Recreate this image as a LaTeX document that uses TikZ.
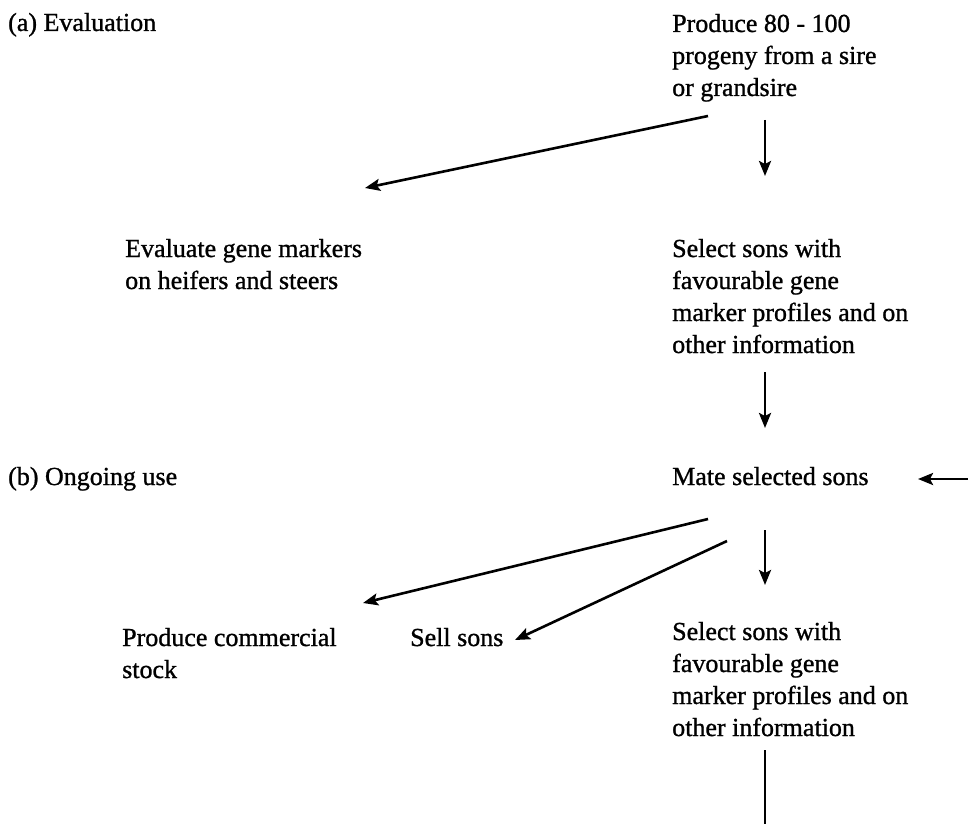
\documentclass[tikz,border=0pt]{standalone}
\usepackage{fontspec}
\setmainfont[FakeBold=1]{Liberation Serif}
\usetikzlibrary{arrows.meta}
\begin{document}
\begin{tikzpicture}[x=1pt,y=-1pt,
  txt/.style={anchor=base west, inner sep=0pt, font=\fontsize{26}{32}\selectfont},
  arr/.style={line width=2.6pt, -{Stealth[length=15pt,width=12pt,inset=3pt]}},
  ln/.style={line width=2.6pt}]
\useasboundingbox (0,0) rectangle (968,824);
% text nodes
\node[txt] (a) at (8,31) {(a) Evaluation};
\node[txt] (p) at (672,32) {\begin{tabular}[t]{@{}l@{}}Produce 80 - 100\\progeny from a sire\\or grandsire\end{tabular}};
\node[txt] (e) at (125,257) {\begin{tabular}[t]{@{}l@{}}Evaluate gene markers\\on heifers and steers\end{tabular}};
\node[txt] (s1) at (672,257) {\begin{tabular}[t]{@{}l@{}}Select sons with\\favourable gene\\marker profiles and on\\other information\end{tabular}};
\node[txt] (b) at (8,485) {(b) Ongoing use};
\node[txt] (m) at (672,485) {Mate selected sons};
\node[txt] (c) at (122,646) {\begin{tabular}[t]{@{}l@{}}Produce commercial\\stock\end{tabular}};
\node[txt] (ss) at (410,646) {Sell sons};
\node[txt] (s2) at (672,640) {\begin{tabular}[t]{@{}l@{}}Select sons with\\favourable gene\\marker profiles and on\\other information\end{tabular}};
% connector end points
\coordinate (pdiag) at (708,116);
\coordinate (ein) at (365,188);
\coordinate (pdown) at (765,120);
\coordinate (s1in) at (765,176);
\coordinate (s1down) at (765,372);
\coordinate (min) at (765,428);
\coordinate (mright) at (968,479);
\coordinate (mrin) at (918,479);
\coordinate (md1) at (708,519);
\coordinate (cin) at (363,603);
\coordinate (md2) at (727,541);
\coordinate (ssin) at (515,640);
\coordinate (mdown) at (765,530);
\coordinate (s2in) at (765,585);
\coordinate (s2down) at (765,750);
\coordinate (bot) at (765,824);
% connectors
\draw[arr] (pdiag) -- (ein);
\draw[arr] (pdown) -- (s1in);
\draw[arr] (s1down) -- (min);
\draw[arr] (mright) -- (mrin);
\draw[arr] (md1) -- (cin);
\draw[arr] (md2) -- (ssin);
\draw[arr] (mdown) -- (s2in);
\draw[ln] (s2down) -- (bot);
\end{tikzpicture}
\end{document}
